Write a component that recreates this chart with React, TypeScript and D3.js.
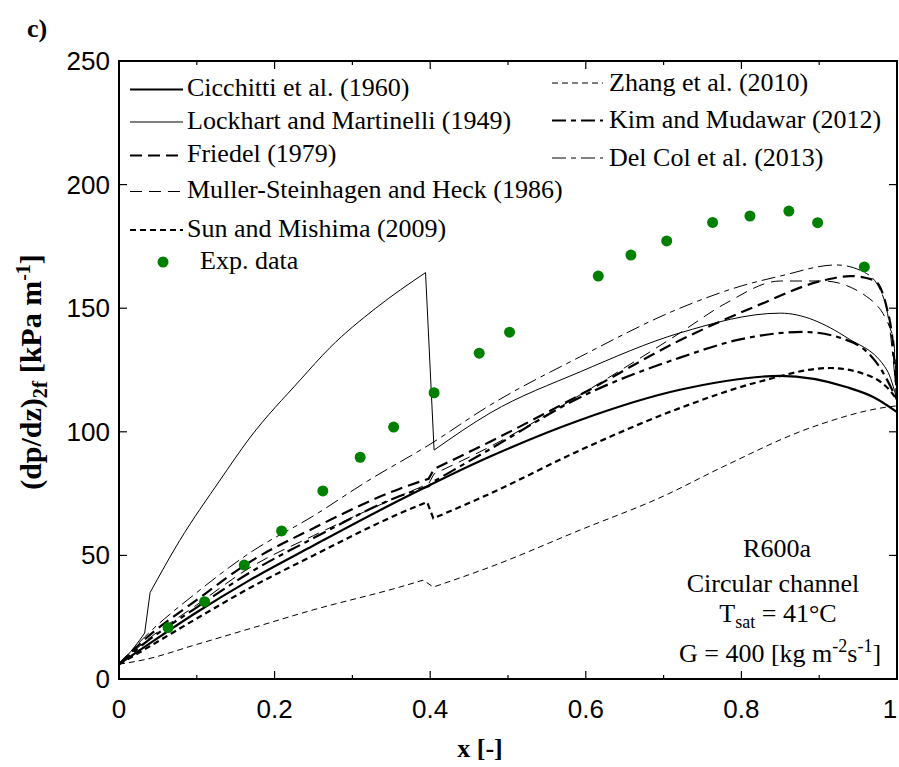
import React from 'react';
import * as d3 from 'd3';

type P = [number, number];

// ---------- data ----------
const xTickValues = [0, 0.2, 0.4, 0.6, 0.8, 1];
const xTickLabels = ['0', '0.2', '0.4', '0.6', '0.8', '1'];
const xMinorTicks = [0.1, 0.3, 0.5, 0.7, 0.9];
const yTickValues = [0, 50, 100, 150, 200, 250];
const yTickLabels = ['0', '50', '100', '150', '200', '250'];

const cicchitti: P[] = [[0, 6], [0.033, 13], [0.1, 27], [0.168, 40], [0.25, 54], [0.361, 72.4], [0.477, 90], [0.593, 104.8], [0.721, 117], [0.85, 122.6], [0.936, 118], [0.97, 114], [1, 108]];
const lockhart: P[] = [[0, 6], [0.02, 13], [0.033, 18.6], [0.04, 35], [0.078, 56], [0.13, 80.5], [0.168, 97.5], [0.233, 121], [0.271, 134], [0.33, 150], [0.394, 164.4], [0.405, 92.6], [0.477, 107.6], [0.593, 124.3], [0.721, 140], [0.85, 148], [0.936, 138], [0.987, 125], [1, 113]];
const friedel: P[] = [[0, 6], [0.033, 16], [0.1, 32], [0.168, 47.3], [0.25, 61], [0.361, 77], [0.398, 81], [0.405, 85], [0.477, 96], [0.593, 115], [0.721, 137], [0.82, 151], [0.905, 161.2], [0.94, 163], [0.97, 161.4], [0.987, 150], [0.995, 135], [1, 113]];
const muller: P[] = [[0, 6], [0.033, 15], [0.1, 30], [0.168, 45], [0.25, 58], [0.361, 74], [0.398, 79], [0.405, 83], [0.477, 94], [0.593, 115], [0.721, 140], [0.78, 152], [0.85, 161], [0.905, 161], [0.961, 154.7], [0.995, 138.5], [1, 113]];
const sunMishima: P[] = [[0, 6], [0.033, 12], [0.1, 24.5], [0.168, 36.8], [0.25, 50], [0.361, 67], [0.396, 71.6], [0.404, 65], [0.477, 75], [0.593, 92.6], [0.721, 109.6], [0.82, 120], [0.914, 125.8], [0.969, 122], [0.99, 117], [1, 113]];
const zhang: P[] = [[0, 6], [0.031, 7.7], [0.1, 14], [0.175, 21], [0.25, 28], [0.361, 37.2], [0.391, 40], [0.404, 37.2], [0.477, 45.3], [0.593, 60.3], [0.7, 74], [0.776, 85.8], [0.892, 102], [0.987, 110], [1, 110.5]];
const kimMudawar: P[] = [[0, 6], [0.033, 14.5], [0.1, 29], [0.168, 43], [0.25, 57], [0.361, 74], [0.398, 78], [0.405, 80], [0.477, 93], [0.593, 114], [0.721, 130], [0.8, 137.5], [0.88, 140.4], [0.944, 136], [0.978, 126], [1, 113]];
const delCol: P[] = [[0, 6], [0.033, 17], [0.1, 35], [0.168, 51], [0.25, 66], [0.319, 80], [0.4, 95], [0.477, 110.8], [0.593, 130.4], [0.721, 150], [0.8, 159], [0.85, 163], [0.922, 167.5], [0.961, 164], [0.985, 152], [1, 113]];

// x positions where a curve has a sharp corner (regime change)
const lockhartCorners = [0.033, 0.04, 0.394, 0.405];
const sunCorners = [0.396, 0.404];
const zhangCorners = [0.391, 0.404];
const friedelCorners = [0.398, 0.405];
const mullerCorners = [0.398, 0.405];
const kimCorners = [0.398, 0.405];

const expX = [0.063, 0.11, 0.161, 0.209, 0.262, 0.31, 0.353, 0.405, 0.463, 0.502, 0.616, 0.658, 0.704, 0.763, 0.811, 0.861, 0.898, 0.958];
const expY = [20.8, 31.3, 46.1, 59.9, 76.1, 89.7, 101.9, 115.8, 131.8, 140.3, 163.0, 171.5, 177.2, 184.7, 187.3, 189.3, 184.6, 166.7];

const seriesNames = [
  'Cicchitti et al. (1960)',
  'Lockhart and Martinelli (1949)',
  'Friedel (1979)',
  'Muller-Steinhagen and Heck (1986)',
  'Sun and Mishima (2009)',
  'Zhang et al. (2010)',
  'Kim and Mudawar (2012)',
  'Del Col et al. (2013)',
];
const seriesData: P[][] = [cicchitti, lockhart, friedel, muller, sunMishima, zhang, kimMudawar, delCol];
const seriesCorners: number[][] = [[], lockhartCorners, friedelCorners, mullerCorners, sunCorners, zhangCorners, kimCorners, []];

// ---------- styles ----------
const seriesStyle = [
  { w: 2.2, dash: '' },
  { w: 1, dash: '' },
  { w: 2.2, dash: '12,6' },
  { w: 1, dash: '12,7' },
  { w: 2.2, dash: '6,4' },
  { w: 1, dash: '6,4' },
  { w: 2.2, dash: '14,5,5,5' },
  { w: 1, dash: '14,5,5,5' },
];

const W = 899;
const H = 767;
const L = 119, R = 897, T = 61, B = 679;
const GREEN = '#008000';
const SERIF = '"Liberation Serif", "Times New Roman", serif';
const SANS = '"Liberation Sans", Arial, sans-serif';

function splitAt(data: P[], corners: number[]): P[][] {
  const segs: P[][] = [];
  let cur: P[] = [];
  data.forEach(p => {
    cur.push(p);
    if (corners.some(c => Math.abs(c - p[0]) < 1e-9)) {
      segs.push(cur);
      cur = [p];
    }
  });
  if (cur.length > 1) segs.push(cur);
  return segs;
}

export default function App() {
  const x = d3.scaleLinear().domain([0, 1]).range([L, R]);
  const y = d3.scaleLinear().domain([0, 250]).range([B, T]);
  const line = d3.line<P>().x(d => x(d[0])).y(d => y(d[1])).curve(d3.curveMonotoneX);

  const pathFor = (d: P[], corners: number[]) => {
    const segs = splitAt(d, corners);
    let s = '';
    segs.forEach((seg, k) => {
      const ps = line(seg) || '';
      s += k === 0 ? ps : 'L' + ps.slice(1);
    });
    return s;
  };

  const legendLeft = [0, 1, 2, 3, 4];
  const legendLeftY = [89.5, 122, 155.5, 191.5, 230];
  const legendRight = [5, 6, 7];
  const legendRightY = [83, 120.5, 158];

  return (
    <svg width={W} height={H} style={{ position: 'absolute', left: 0, top: 0, background: '#fff' }}>
      <defs>
        <clipPath id="plot">
          <rect x={L} y={T} width={R - L} height={B - T} />
        </clipPath>
      </defs>
      <rect x={0} y={0} width={W} height={H} fill="#fff" />

      {/* curves */}
      <g clipPath="url(#plot)" fill="none" stroke="#000">
        {seriesData.map((d, i) => (
          <path key={i} d={pathFor(d, seriesCorners[i])} strokeWidth={seriesStyle[i].w} strokeDasharray={seriesStyle[i].dash || undefined} strokeLinejoin="miter" />
        ))}
      </g>

      {/* experimental points */}
      <g fill={GREEN}>
        {expX.map((v, i) => (
          <circle key={i} cx={x(v)} cy={y(expY[i])} r={5.5} />
        ))}
      </g>

      {/* frame */}
      <rect x={L} y={T} width={R - L} height={B - T} fill="none" stroke="#000" strokeWidth={2} />

      {/* ticks */}
      <g stroke="#000" strokeWidth={1.2}>
        {xTickValues.map((v, i) => (
          <g key={'xt' + i}>
            <line x1={x(v)} x2={x(v)} y1={B} y2={B - 8} />
            <line x1={x(v)} x2={x(v)} y1={T} y2={T + 8} />
          </g>
        ))}
        {xMinorTicks.map((v, i) => (
          <g key={'xm' + i}>
            <line x1={x(v)} x2={x(v)} y1={B} y2={B - 4} />
            <line x1={x(v)} x2={x(v)} y1={T} y2={T + 4} />
          </g>
        ))}
        {yTickValues.map((v, i) => (
          <g key={'yt' + i}>
            <line x1={L} x2={L + 8} y1={y(v)} y2={y(v)} />
            <line x1={R} x2={R - 8} y1={y(v)} y2={y(v)} />
          </g>
        ))}
      </g>

      {/* tick labels */}
      <g fontFamily={SANS} fontSize={26} fill="#000">
        {xTickValues.map((v, i) => (
          <text key={'xl' + i} x={Math.min(x(v), 890)} y={718} textAnchor="middle">{xTickLabels[i]}</text>
        ))}
        {yTickValues.map((v, i) => (
          <text key={'yl' + i} x={110} y={y(v) + 9} textAnchor="end">{yTickLabels[i]}</text>
        ))}
      </g>

      {/* axis titles */}
      <text x={480} y={757} textAnchor="middle" fontFamily={SERIF} fontWeight="bold" fontSize={26}>x [-]</text>
      <text transform="translate(41,372) rotate(-90)" textAnchor="middle" fontFamily={SERIF} fontWeight="bold" fontSize={30}>
        (dp/dz)<tspan dy={6} fontSize={20}>2</tspan><tspan fontSize={22}>f</tspan><tspan dy={-6}> [kPa m</tspan><tspan dy={-11} fontSize={20}>-1</tspan><tspan dy={11}>]</tspan>
      </text>
      <text x={27} y={37} fontFamily={SERIF} fontWeight="bold" fontSize={26}>c)</text>

      {/* legend */}
      <g fontFamily={SERIF} fontSize={26} fill="#000">
        {legendLeft.map((si, k) => (
          <g key={'ll' + k}>
            <line x1={130} x2={183} y1={legendLeftY[k]} y2={legendLeftY[k]} stroke="#000" strokeWidth={seriesStyle[si].w} strokeDasharray={seriesStyle[si].dash || undefined} />
            <text x={187} y={legendLeftY[k] + 6.5}>{seriesNames[si]}</text>
          </g>
        ))}
        <circle cx={163} cy={262} r={5.5} fill={GREEN} />
        <text x={200} y={269}>Exp. data</text>
        {legendRight.map((si, k) => (
          <g key={'lr' + k}>
            <line x1={552} x2={603} y1={legendRightY[k]} y2={legendRightY[k]} stroke="#000" strokeWidth={seriesStyle[si].w} strokeDasharray={seriesStyle[si].dash || undefined} />
            <text x={609} y={legendRightY[k] + 7.5}>{seriesNames[si]}</text>
          </g>
        ))}
      </g>

      {/* annotation */}
      <g fontFamily={SERIF} fontSize={26} fill="#000" textAnchor="middle">
        <text x={777} y={557}>R600a</text>
        <text x={773} y={592}>Circular channel</text>
        <text x={778} y={622}>T<tspan dy={6} fontSize={18}>sat</tspan><tspan dy={-6}> = 41°C</tspan></text>
        <text x={780} y={662}>G = 400 [kg m<tspan dy={-10} fontSize={18}>-2</tspan><tspan dy={10}>s</tspan><tspan dy={-10} fontSize={18}>-1</tspan><tspan dy={10}>]</tspan></text>
      </g>
    </svg>
  );
}
